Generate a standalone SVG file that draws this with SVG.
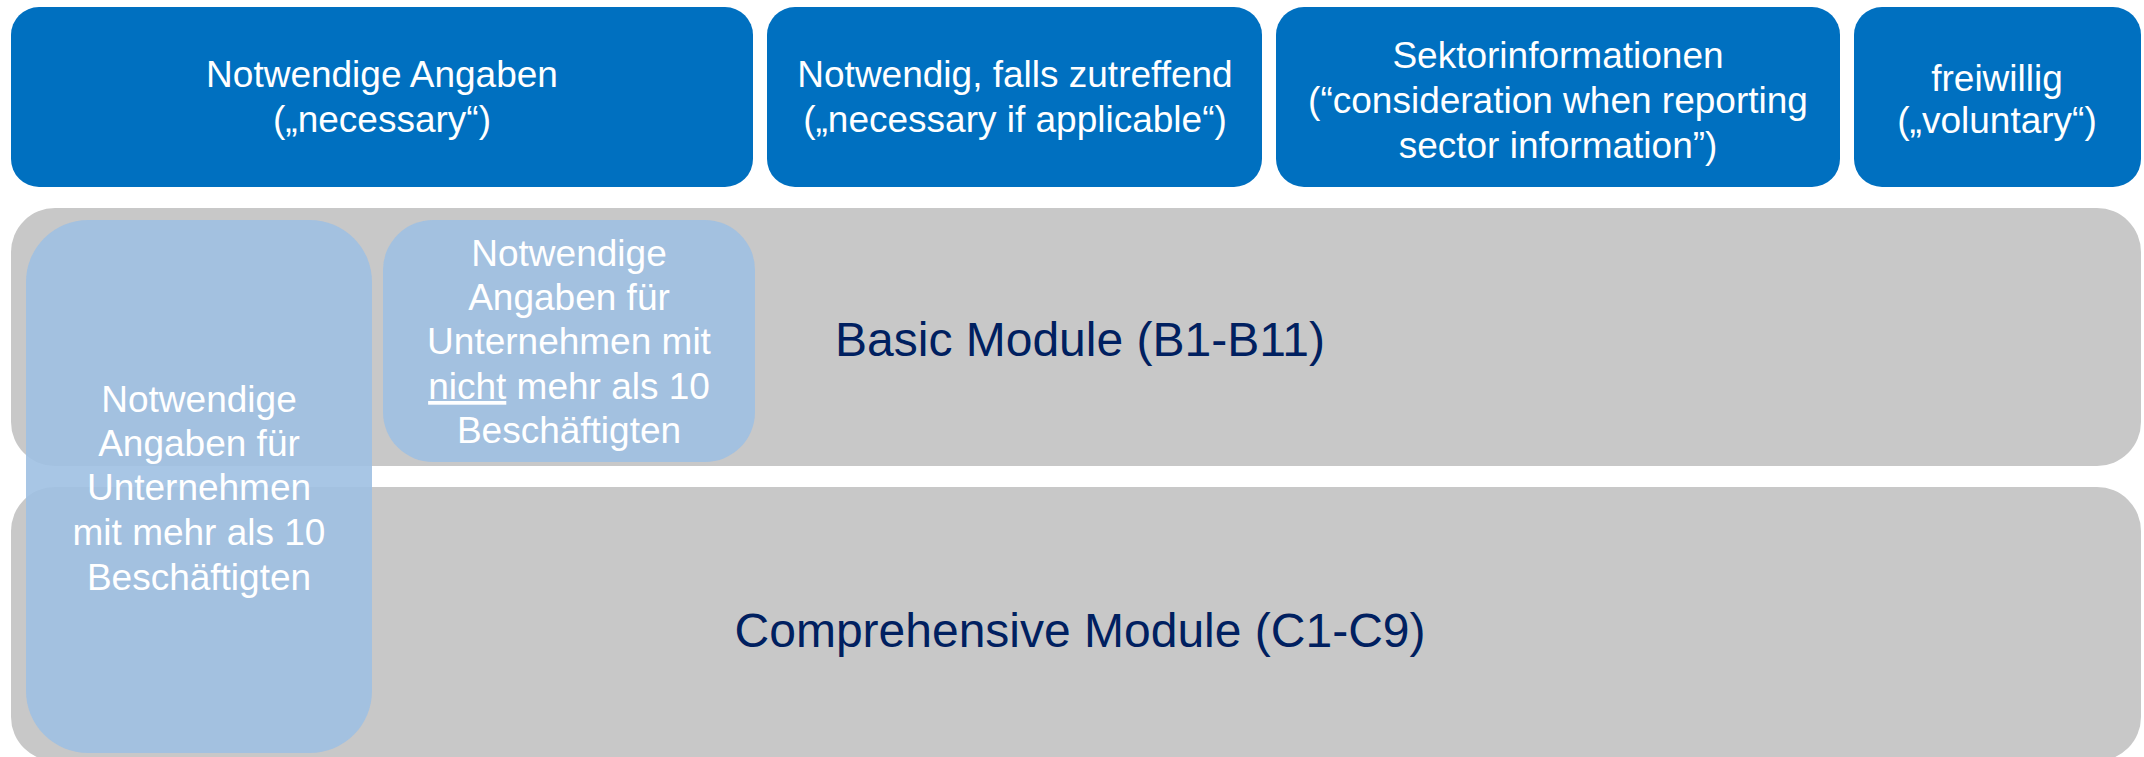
<svg xmlns="http://www.w3.org/2000/svg" width="2144" height="757" viewBox="0 0 2144 757">
<style>
.top{fill:#0070C0}
.band{fill:#C8C8C8}
.lb{fill:#9FC0E2;fill-opacity:0.9}
text{font-family:"Liberation Sans",Arial,sans-serif;text-anchor:middle}
.w{fill:#FFFFFF;font-size:37px}
.m{fill:#002060;font-size:48px}
</style>
<rect width="2144" height="757" fill="#FFFFFF"/>
<g id="band-basic"><rect class="band" x="11" y="208" width="2130" height="258" rx="44"/>
<text class="m" x="1080" y="356">Basic Module (B1-B11)</text></g>
<g id="band-comprehensive"><rect class="band" x="11" y="487" width="2130" height="274" rx="44"/>
<text class="m" x="1080" y="647">Comprehensive Module (C1-C9)</text></g>
<g id="top-necessary"><rect class="top" x="11" y="7" width="742" height="180" rx="28"/>
<text class="w" x="382" y="87">Notwendige Angaben</text>
<text class="w" x="382" y="132">(„necessary“)</text></g>
<g id="top-applicable"><rect class="top" x="767" y="7" width="495" height="180" rx="28"/>
<text class="w" x="1015" y="87">Notwendig, falls zutreffend</text>
<text class="w" x="1015" y="132">(„necessary if applicable“)</text></g>
<g id="top-sector"><rect class="top" x="1276" y="7" width="564" height="180" rx="28"/>
<text class="w" x="1558" y="68">Sektorinformationen</text>
<text class="w" x="1558" y="113">(“consideration when reporting</text>
<text class="w" x="1558" y="158">sector information”)</text></g>
<g id="top-voluntary"><rect class="top" x="1854" y="7" width="287" height="180" rx="28"/>
<text class="w" x="1997" y="91">freiwillig</text>
<text class="w" x="1997" y="133">(„voluntary“)</text></g>
<g id="box-more10"><rect class="lb" x="26" y="220" width="346" height="533" rx="62"/>
<text class="w" x="199" y="412">Notwendige</text>
<text class="w" x="199" y="456">Angaben für</text>
<text class="w" x="199" y="500">Unternehmen</text>
<text class="w" x="199" y="545">mit mehr als 10</text>
<text class="w" x="199" y="590">Beschäftigten</text></g>
<g id="box-notmore10"><rect class="lb" x="383" y="220" width="372" height="242" rx="50"/>
<text class="w" x="569" y="266">Notwendige</text>
<text class="w" x="569" y="310">Angaben für</text>
<text class="w" x="569" y="354">Unternehmen mit</text>
<text class="w" x="569" y="399"><tspan text-decoration="underline">nicht</tspan> mehr als 10</text>
<text class="w" x="569" y="443">Beschäftigten</text></g>
<g id="connectors"/>
</svg>
